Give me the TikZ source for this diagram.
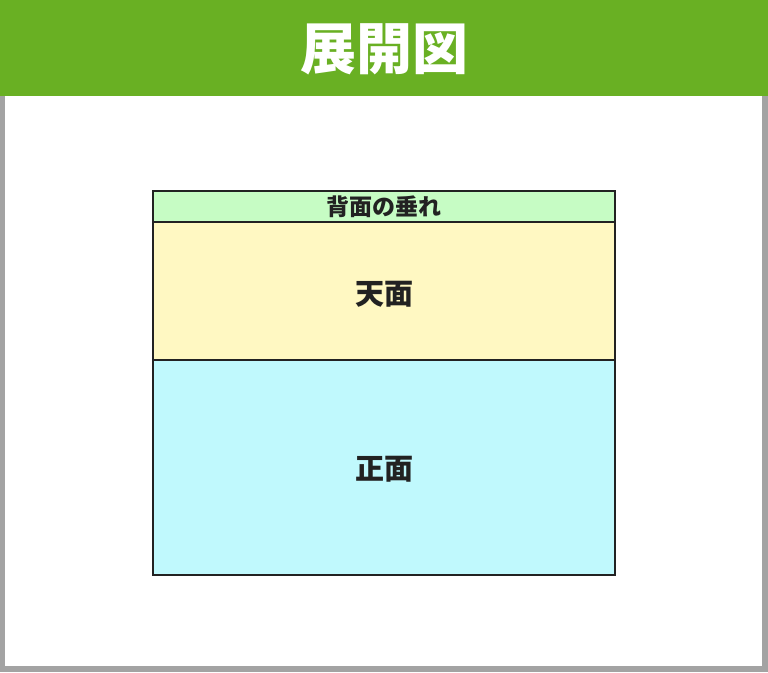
\documentclass[tikz,border=0pt]{standalone}
\usepackage{fontspec}
\newfontfamily\cjk{Noto Sans CJK JP}
\definecolor{hdrgreen}{HTML}{69B023}
\definecolor{framegray}{HTML}{A3A3A3}
\definecolor{stripgreen}{HTML}{C6FCC4}
\definecolor{topyellow}{HTML}{FFF8C2}
\definecolor{frontblue}{HTML}{C0F9FD}
\definecolor{ink}{HTML}{222222}
\tikzset{
  panel/.style={draw=ink, line width=2pt},
  lbl/.style={text=ink, font=\cjk\bfseries, inner sep=0pt, anchor=center}
}
\begin{document}
\begin{tikzpicture}[x=1pt,y=-1pt]
\useasboundingbox (0,0) rectangle (768,672);
% frame
\fill[framegray] (0,0) rectangle (768,672);
\fill[white] (5,96) rectangle (762,666);
\fill[hdrgreen] (0,0) rectangle (768,96);
\node[text=white, font=\cjk\bfseries\fontsize{56}{60}\selectfont, inner sep=0pt] (title) at (384,49) {展開図};
% panels
\draw[panel, fill=stripgreen] (152.5,190.5) rectangle (615,221.5);
\draw[panel, fill=topyellow] (152.5,221.5) rectangle (615,359.5);
\draw[panel, fill=frontblue] (152.5,359.5) rectangle (615,575);
\node[lbl, font=\cjk\bfseries\fontsize{23}{26}\selectfont] (flap) at (384,206.5) {背面の垂れ};
\node[lbl, font=\cjk\bfseries\fontsize{29}{32}\selectfont] (top) at (384,294) {天面};
\node[lbl, font=\cjk\bfseries\fontsize{29}{32}\selectfont] (front) at (384,469) {正面};
\end{tikzpicture}
\end{document}
